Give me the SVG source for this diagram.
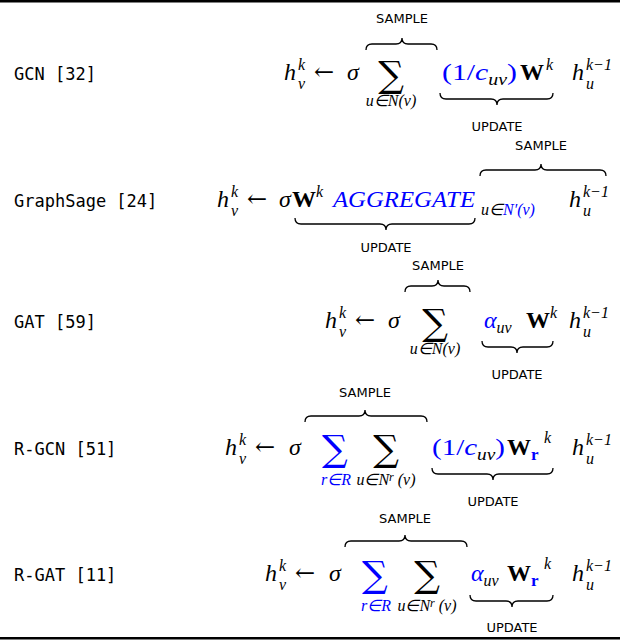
<svg xmlns="http://www.w3.org/2000/svg" width="620" height="642" viewBox="0 0 620 642">
<style>
.lab{font-family:"DejaVu Sans Mono",monospace;font-size:17px;fill:#000}
.m{font-family:"Liberation Serif",serif;font-style:italic;font-size:24px;fill:#000}
.r{font-family:"Liberation Serif",serif;font-size:24px;fill:#000}
.ar{font-family:"DejaVu Serif",serif;font-size:24px;fill:#000}
.b{font-family:"Liberation Serif",serif;font-weight:bold;font-size:24px;fill:#000}
.s{font-family:"Liberation Serif",serif;font-style:italic;font-size:16px;fill:#000}
.sum{font-family:"DejaVu Serif",serif;font-size:36px;fill:#000}
.blue{fill:#0000ff}
.t{font-family:"DejaVu Sans",sans-serif;font-size:13px;fill:#000}
.br{fill:none;stroke:#000;stroke-width:1.3}
</style>
<rect x="0" y="0" width="620" height="2.5" fill="#000"/>
<rect x="0" y="637" width="620" height="2.5" fill="#000"/>

<g id="gcn">
<text class="lab" x="14" y="80">GCN [32]</text>
<text class="m" x="284" y="80">h</text><text class="s" x="298" y="70">k</text><text class="s" x="298" y="89">v</text>
<text class="ar" x="314" y="80">←</text><text class="m" x="347" y="80">σ</text>
<text class="sum" x="391" y="87" text-anchor="middle">∑</text>
<text class="s" x="391" y="106" text-anchor="middle">u∈N(v)</text>
<path class="br" d="M366 50 Q366 44 372 44 L396 44 Q402 44 402 38 Q402 44 408 44 L431 44 Q437 44 437 50"/>
<text class="t" x="402" y="23" text-anchor="middle">SAMPLE</text>
<text class="r blue" x="442" y="80" textLength="75" lengthAdjust="spacingAndGlyphs">(1/<tspan font-style="italic">c</tspan><tspan class="s" dy="5" font-size="17">uv</tspan><tspan dy="-5">)</tspan></text>
<text class="b" x="520" y="80">W</text><text class="s" x="546" y="70">k</text>
<text class="m" x="572" y="80">h</text><text class="s" x="586" y="70">k−1</text><text class="s" x="586" y="89">u</text>
<path class="br" d="M440 93 Q440 99 446 99 L491 99 Q497 99 497 105 Q497 99 503 99 L547 99 Q553 99 553 93"/>
<text class="t" x="497" y="131" text-anchor="middle">UPDATE</text>
</g>

<g id="graphsage">
<text class="lab" x="14" y="207">GraphSage [24]</text>
<text class="m" x="217" y="207">h</text><text class="s" x="231" y="197">k</text><text class="s" x="231" y="216">v</text>
<text class="ar" x="247" y="207">←</text><text class="m" x="279" y="207">σ</text>
<text class="b" x="292" y="207">W</text><text class="s" x="316" y="197">k</text>
<text class="m blue" x="333" y="207" textLength="142" lengthAdjust="spacingAndGlyphs">AGGREGATE</text>
<text class="s" x="481" y="215">u∈<tspan class="blue">N′(v)</tspan></text>
<text class="m" x="569" y="207">h</text><text class="s" x="583" y="197">k−1</text><text class="s" x="583" y="216">u</text>
<path class="br" d="M480 176 Q480 170 486 170 L535 170 Q541 170 541 164 Q541 170 547 170 L600 170 Q606 170 606 176"/>
<text class="t" x="541" y="150" text-anchor="middle">SAMPLE</text>
<path class="br" d="M295 218 Q295 224 301 224 L380 224 Q386 224 386 230 Q386 224 392 224 L469 224 Q475 224 475 218"/>
<text class="t" x="386" y="252" text-anchor="middle">UPDATE</text>
</g>

<g id="gat">
<text class="lab" x="14" y="328">GAT [59]</text>
<text class="m" x="325" y="328">h</text><text class="s" x="339" y="318">k</text><text class="s" x="339" y="337">v</text>
<text class="ar" x="355" y="328">←</text><text class="m" x="388" y="328">σ</text>
<text class="sum" x="435" y="335" text-anchor="middle">∑</text>
<text class="s" x="435" y="354" text-anchor="middle">u∈N(v)</text>
<path class="br" d="M405 292 Q405 286 411 286 L432 286 Q438 286 438 280 Q438 286 444 286 L464 286 Q470 286 470 292"/>
<text class="t" x="438" y="270" text-anchor="middle">SAMPLE</text>
<text class="m blue" x="484" y="328">α<tspan class="s" font-size="17" dy="5">uv</tspan></text>
<text class="b" x="526" y="328">W</text><text class="s" x="550" y="318">k</text>
<text class="m" x="569" y="328">h</text><text class="s" x="583" y="318">k−1</text><text class="s" x="583" y="337">u</text>
<path class="br" d="M482 341 Q482 347 488 347 L511 347 Q517 347 517 353 Q517 347 523 347 L547 347 Q553 347 553 341"/>
<text class="t" x="517" y="379" text-anchor="middle">UPDATE</text>
</g>

<g id="rgcn">
<text class="lab" x="14" y="455">R-GCN [51]</text>
<text class="m" x="225" y="455">h</text><text class="s" x="239" y="445">k</text><text class="s" x="239" y="464">v</text>
<text class="ar" x="255" y="455">←</text><text class="m" x="289" y="455">σ</text>
<text class="sum blue" x="322" y="461">∑</text>
<text class="s blue" x="336" y="485" text-anchor="middle">r∈R</text>
<text class="sum" x="386" y="461" text-anchor="middle">∑</text>
<text class="s" x="386" y="485" text-anchor="middle">u∈N<tspan font-size="12" dy="-4">r</tspan><tspan dy="4"> (v)</tspan></text>
<path class="br" d="M305 422 Q305 416 311 416 L359 416 Q365 416 365 410 Q365 416 371 416 L421 416 Q427 416 427 422"/>
<text class="t" x="365" y="397" text-anchor="middle">SAMPLE</text>
<text class="r blue" x="432" y="455" textLength="73" lengthAdjust="spacingAndGlyphs">(1/<tspan font-style="italic">c</tspan><tspan class="s" dy="5" font-size="17">uv</tspan><tspan dy="-5">)</tspan></text>
<text class="b" x="507" y="455">W<tspan class="blue" font-size="17" dy="5">r</tspan></text><text class="s" x="544" y="443">k</text>
<text class="m" x="572" y="455">h</text><text class="s" x="586" y="445">k−1</text><text class="s" x="586" y="464">u</text>
<path class="br" d="M432 468 Q432 474 438 474 L487 474 Q493 474 493 480 Q493 474 499 474 L547 474 Q553 474 553 468"/>
<text class="t" x="493" y="506" text-anchor="middle">UPDATE</text>
</g>

<g id="rgat">
<text class="lab" x="14" y="581">R-GAT [11]</text>
<text class="m" x="265" y="581">h</text><text class="s" x="279" y="571">k</text><text class="s" x="279" y="590">v</text>
<text class="ar" x="295" y="581">←</text><text class="m" x="329" y="581">σ</text>
<text class="sum blue" x="362" y="587">∑</text>
<text class="s blue" x="376" y="611" text-anchor="middle">r∈R</text>
<text class="sum" x="427" y="587" text-anchor="middle">∑</text>
<text class="s" x="427" y="611" text-anchor="middle">u∈N<tspan font-size="12" dy="-4">r</tspan><tspan dy="4"> (v)</tspan></text>
<path class="br" d="M345 547 Q345 541 351 541 L399 541 Q405 541 405 535 Q405 541 411 541 L461 541 Q467 541 467 547"/>
<text class="t" x="405" y="523" text-anchor="middle">SAMPLE</text>
<text class="m blue" x="471" y="581">α<tspan class="s" font-size="17" dy="5">uv</tspan></text>
<text class="b" x="507" y="581">W<tspan class="blue" font-size="17" dy="5">r</tspan></text><text class="s" x="544" y="569">k</text>
<text class="m" x="572" y="581">h</text><text class="s" x="586" y="571">k−1</text><text class="s" x="586" y="590">u</text>
<path class="br" d="M470 595 Q470 601 476 601 L506 601 Q512 601 512 607 Q512 601 518 601 L547 601 Q553 601 553 595"/>
<text class="t" x="512" y="632" text-anchor="middle">UPDATE</text>
</g>
</svg>
